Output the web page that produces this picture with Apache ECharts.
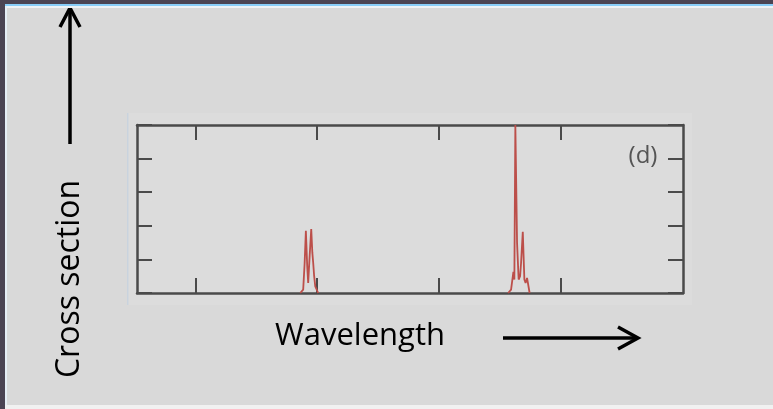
<!DOCTYPE html>
<html>
<head>
<meta charset="utf-8">
<script src="https://cdn.jsdelivr.net/npm/echarts@6/dist/echarts.min.js"></script>
<style>
  html, body { margin: 0; padding: 0; background: #d9d9d9; }
  #chart { width: 773px; height: 409px; }
</style>
</head>
<body>
<div id="chart"></div>
<script>
// Wavelength positions of the major tick marks (arbitrary units)
const xTickValues = [0, 1, 2, 3];
const xMin = -0.478;
const xMax = 4;
// Cross-section scale
const yMin = 0;
const yMax = 5;
const yInterval = 1;

// First absorption feature: a doublet
const peakAx = [0.861, 0.885, 0.897, 0.907, 0.918, 0.926, 0.938, 0.951, 0.960, 0.967, 0.975, 0.984, 1.008];
const peakAy = [0, 0.1, 0.9, 1.85, 0.8, 0.3, 1.1, 1.9, 1.2, 0.9, 0.5, 0.2, 0];

// Second feature: one strong narrow line with a weaker companion
const peakBx = [2.566, 2.590, 2.609, 2.617, 2.625, 2.639, 2.652, 2.664, 2.672, 2.686, 2.699, 2.709, 2.721, 2.742];
const peakBy = [0, 0.1, 0.63, 0.4, 5, 1.5, 0.4, 0.5, 0.9, 1.82, 0.4, 0.3, 0.45, 0];

const pairs = (xs, ys) => xs.map((x, i) => [x, ys[i]]);

const frameColor = '#4a4a4a';
const lineColor = '#bc4f4a';

const tickStyle = { color: frameColor, width: 2 };

function frameAxis(extra) {
  return Object.assign({
    type: 'value',
    axisLine: { show: true, onZero: false, lineStyle: { color: frameColor, width: 2.5 } },
    axisLabel: { show: false },
    splitLine: { show: false }
  }, extra);
}

const chart = echarts.init(document.getElementById('chart'), null, { renderer: 'canvas' });

chart.setOption({
  backgroundColor: '#d9d9d9',
  animation: false,
  grid: { left: 137, top: 125, right: 90, bottom: 116, containLabel: false },
  xAxis: [
    frameAxis({ position: 'bottom', min: xMin, max: xMax,
      axisTick: { show: true, inside: true, length: 15, customValues: xTickValues, lineStyle: tickStyle } }),
    frameAxis({ position: 'top', min: xMin, max: xMax,
      axisTick: { show: true, inside: true, length: 15, customValues: xTickValues, lineStyle: tickStyle } })
  ],
  yAxis: [
    frameAxis({ position: 'left', min: yMin, max: yMax, interval: yInterval,
      axisTick: { show: true, inside: true, length: 15, lineStyle: tickStyle } }),
    frameAxis({ position: 'right', min: yMin, max: yMax, interval: yInterval,
      axisTick: { show: true, inside: true, length: 15, lineStyle: tickStyle } })
  ],
  series: [
    {
      type: 'line', xAxisIndex: 0, yAxisIndex: 0, data: pairs(peakAx, peakAy),
      showSymbol: false, lineStyle: { color: lineColor, width: 1.8 }, z: 1
    },
    {
      type: 'line', xAxisIndex: 0, yAxisIndex: 0, data: pairs(peakBx, peakBy),
      showSymbol: false, lineStyle: { color: lineColor, width: 1.8 }, z: 1
    }
  ],
  graphic: [
    // slide frame
    { type: 'rect', shape: { x: 0, y: 0, width: 773, height: 4 }, style: { fill: '#4b4453' }, z: 10 },
    { type: 'rect', shape: { x: 0, y: 4, width: 773, height: 2 }, style: { fill: '#88cdf8' }, z: 10 },
    { type: 'rect', shape: { x: 5, y: 6, width: 768, height: 2 }, style: { fill: '#eef2f5' }, z: 10 },
    { type: 'rect', shape: { x: 0, y: 0, width: 5, height: 409 }, style: { fill: '#4b4453' }, z: 11 },
    { type: 'rect', shape: { x: 5, y: 6, width: 2, height: 403 }, style: { fill: '#e6eef5' }, z: 10 },
    { type: 'rect', shape: { x: 5, y: 405, width: 768, height: 4 }, style: { fill: '#f1f1f1' }, z: 10 },
    // lighter panel behind the plot
    { type: 'rect', shape: { x: 128, y: 113, width: 564, height: 192 }, style: { fill: '#dcdcdc' }, z: -10 },
    { type: 'rect', shape: { x: 127, y: 113, width: 1.5, height: 192 }, style: { fill: '#c9d3de' }, z: -9 },
    // panel tag
    { type: 'text', x: 643, y: 156, style: { text: '(d)', font: '24px "Open Sans", sans-serif',
      fill: '#555555', align: 'center', verticalAlign: 'middle' }, z: 5 },
    // axis captions
    { type: 'text', x: 70, y: 279, rotation: Math.PI / 2, style: { text: 'Cross section',
      font: '32px "Open Sans", sans-serif', fill: '#000000', align: 'center', verticalAlign: 'middle' }, z: 5 },
    { type: 'text', x: 360, y: 336, style: { text: 'Wavelength',
      font: '31px "Open Sans", sans-serif', fill: '#000000', align: 'center', verticalAlign: 'middle' }, z: 5 },
    // vertical arrow
    { type: 'polyline', shape: { points: [[70, 144], [70, 9]] },
      style: { stroke: '#000', lineWidth: 3.5, fill: null }, z: 5 },
    { type: 'polyline', shape: { points: [[60, 27], [70, 8], [80, 27]] },
      style: { stroke: '#000', lineWidth: 3.5, fill: null, lineJoin: 'miter' }, z: 5 },
    // horizontal arrow
    { type: 'polyline', shape: { points: [[503, 338], [636, 338]] },
      style: { stroke: '#000', lineWidth: 3.5, fill: null }, z: 5 },
    { type: 'polyline', shape: { points: [[618, 327], [638, 338], [618, 349]] },
      style: { stroke: '#000', lineWidth: 3.5, fill: null, lineJoin: 'miter' }, z: 5 }
  ]
});
</script>
</body>
</html>
